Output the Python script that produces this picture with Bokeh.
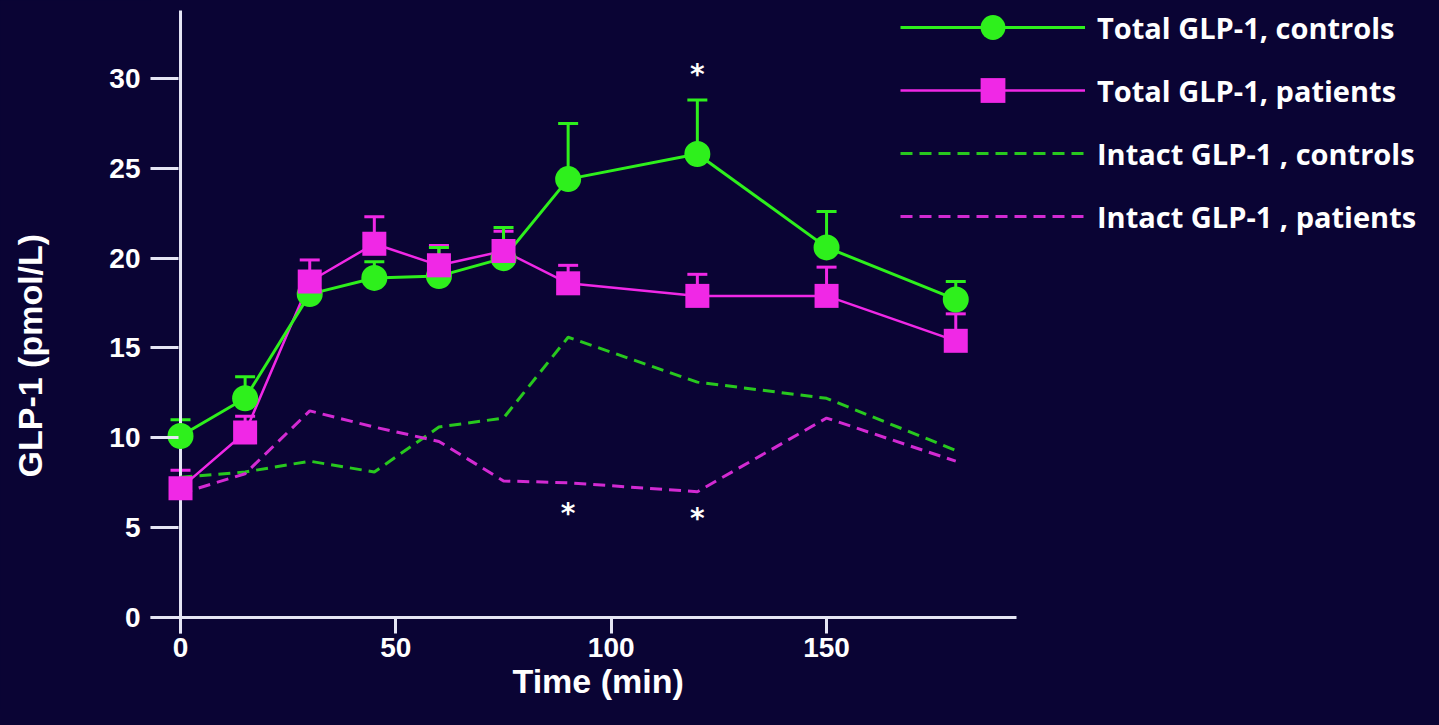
from bokeh.plotting import figure
from bokeh.models import ColumnDataSource, Whisker, TeeHead, Legend, LegendItem, FixedTicker, Range1d, Title
from bokeh.core.properties import value
from bokeh.embed import file_html
from bokeh.resources import INLINE

# ---- data ----
time_min = [0, 15, 30, 45, 60, 75, 90, 120, 150, 180]
total_controls = [10.1, 12.2, 18.0, 18.9, 19.0, 20.0, 24.4, 25.8, 20.6, 17.7]
total_controls_sem = [0.9, 1.2, 1.2, 0.9, 1.6, 1.7, 3.1, 3.0, 2.0, 1.0]
total_patients = [7.2, 10.3, 18.7, 20.8, 19.6, 20.4, 18.6, 17.9, 17.9, 15.4]
total_patients_sem = [1.0, 0.9, 1.2, 1.5, 1.1, 1.1, 1.0, 1.2, 1.6, 1.5]
intact_controls = [7.8, 8.1, 8.7, 8.1, 10.6, 11.1, 15.6, 13.1, 12.2, 9.3]
intact_patients = [6.9, 8.0, 11.5, 10.6, 9.8, 7.6, 7.5, 7.0, 11.1, 8.7]
star_x = [120, 90, 120]
star_y = [30.2, 5.8, 5.5]
x_ticks = [0, 50, 100, 150]
y_ticks = [0, 5, 10, 15, 20, 25, 30]
x_axis_extent = [-6.97, 194.1]
y_axis_extent = [-0.89, 33.78]
x_title = "Time (min)"
y_title = "GLP-1 (pmol/L)"
legend_labels = ["Total GLP-1, controls", "Total GLP-1, patients",
                 "Intact GLP-1 , controls", "Intact GLP-1 , patients"]

BG = "#0a0434"
GREEN = "#2ef01c"
MAGENTA = "#f028e6"
DGREEN = "#28c81e"
DMAGENTA = "#d22ad2"
AXIS = "#e6e6f5"

W, H = 1423, 709
left, top, bottom_edge = 150, 0, 633

p = figure(width=W, height=H, output_backend="svg", toolbar_location=None,
           x_range=Range1d(-6.97, 288.6), y_range=Range1d(-0.89, 34.34),
           min_border_left=left, min_border_right=0,
           min_border_top=top, min_border_bottom=H - bottom_edge)
p.background_fill_color = BG
p.border_fill_color = BG
p.outline_line_color = None
p.grid.visible = False

for ax in (p.xaxis[0], p.yaxis[0]):
    ax.axis_line_color = None
    ax.major_tick_out = 0
    ax.minor_tick_line_color = None
    ax.major_tick_line_color = AXIS
    ax.major_tick_line_width = 3
    ax.major_label_text_color = "white"
    ax.major_label_text_font = "Liberation Sans"
    ax.major_label_text_font_style = "bold"
    ax.major_label_text_font_size = "28px"

p.xaxis.ticker = FixedTicker(ticks=x_ticks)
p.yaxis.ticker = FixedTicker(ticks=y_ticks)
p.xaxis.major_tick_in = 16
p.yaxis.major_tick_in = 28
p.xaxis.major_label_standoff = 4
p.yaxis.major_label_standoff = 10
# spacer between y tick labels and the y title
p.yaxis.axis_label = " "
p.yaxis.axis_label_text_font_size = "1px"
p.yaxis.axis_label_standoff = 54

# axis titles as panel titles (allow off-centre placement like the reference)
xt = Title(text=x_title, align="left", offset=362, standoff=0, vertical_align="bottom",
           text_color="white", text_font="Liberation Sans", text_font_style="bold",
           text_font_size="34px")
p.add_layout(xt, "below")
yt = Title(text=y_title, align="left", offset=156, standoff=0, vertical_align="bottom",
           text_color="white", text_font="Liberation Sans", text_font_style="bold",
           text_font_size="34px")
p.add_layout(yt, "left")

# axis lines
p.segment(x0=[x_axis_extent[0]], y0=[0], x1=[x_axis_extent[1]], y1=[0],
          line_color=AXIS, line_width=3)
p.segment(x0=[0], y0=[y_axis_extent[0]], x1=[0], y1=[y_axis_extent[1]],
          line_color=AXIS, line_width=3)

src = ColumnDataSource(dict(
    t=time_min, tc=total_controls, tp=total_patients,
    tc_up=[v + e for v, e in zip(total_controls, total_controls_sem)],
    tp_up=[v + e for v, e in zip(total_patients, total_patients_sem)],
    ic=intact_controls, ip=intact_patients))

r_ic = p.line("t", "ic", source=src, line_color=DGREEN, line_width=3, line_dash="12 7")
r_ip = p.line("t", "ip", source=src, line_color=DMAGENTA, line_width=3, line_dash="12 7")

p.add_layout(Whisker(source=src, base="t", lower="tp", upper="tp_up", line_color=MAGENTA,
                     line_width=3, lower_head=None,
                     upper_head=TeeHead(size=20, line_color=MAGENTA, line_width=3)))
p.add_layout(Whisker(source=src, base="t", lower="tc", upper="tc_up", line_color=GREEN,
                     line_width=3, lower_head=None,
                     upper_head=TeeHead(size=20, line_color=GREEN, line_width=3)))

r_pl = p.line("t", "tp", source=src, line_color=MAGENTA, line_width=2.5)
r_cl = p.line("t", "tc", source=src, line_color=GREEN, line_width=3)
r_cm = p.scatter("t", "tc", source=src, marker="circle", size=26, fill_color=GREEN, line_color=None)
r_pm = p.scatter("t", "tp", source=src, marker="square", size=24, fill_color=MAGENTA, line_color=None)

p.text(x=star_x, y=star_y, text=["*"] * len(star_x), text_color="white",
       text_font=value("DejaVu Sans"), text_font_style="bold", text_font_size="28px",
       text_align="center", text_baseline="middle")

legend = Legend(items=[
    LegendItem(label=legend_labels[0], renderers=[r_cl, r_cm]),
    LegendItem(label=legend_labels[1], renderers=[r_pl, r_pm]),
    LegendItem(label=legend_labels[2], renderers=[r_ic]),
    LegendItem(label=legend_labels[3], renderers=[r_ip]),
], location=(750, 386), orientation="vertical")
legend.background_fill_alpha = 0
legend.border_line_alpha = 0
legend.glyph_width = 185
legend.glyph_height = 62
legend.spacing = 1
legend.padding = 0
legend.margin = 0
legend.label_standoff = 12
legend.label_text_color = "white"
legend.label_text_font = "Open Sans"
legend.label_text_font_style = "bold"
legend.label_text_font_size = "29px"
p.add_layout(legend)

page_template = ("{% block preamble %}<style>html, body { background-color: "
                 + BG + "; }</style>{% endblock %}")

open("out.html", "w").write(file_html(p, INLINE, template=page_template))
